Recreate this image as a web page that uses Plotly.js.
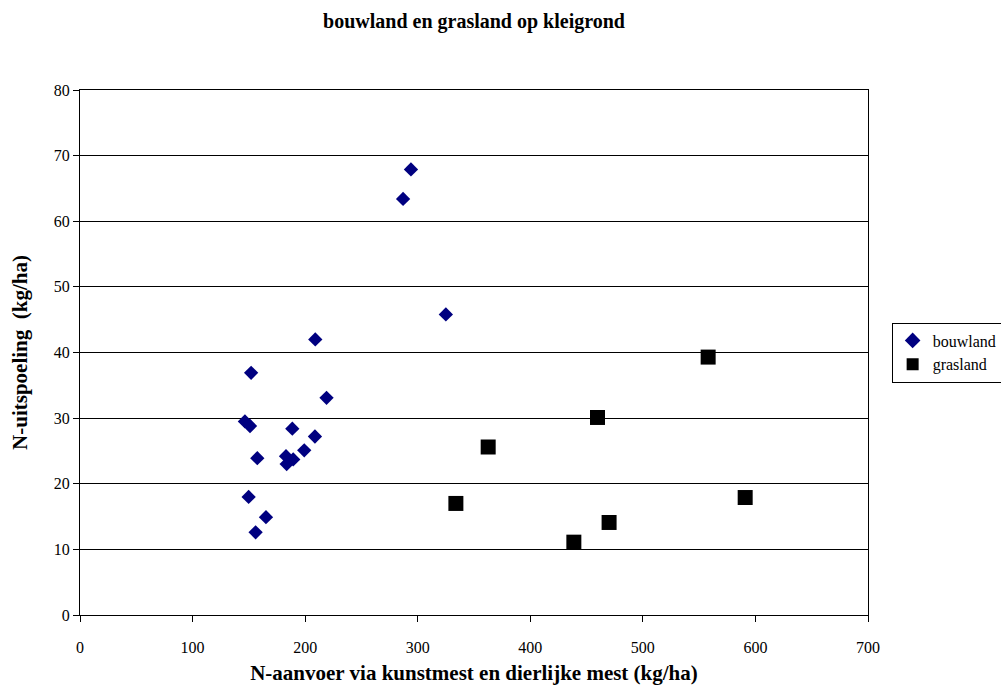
<!DOCTYPE html>
<html>
<head>
<meta charset="utf-8">
<script src="https://cdn.plot.ly/plotly-3.0.1.min.js"></script>
<style>html,body{margin:0;padding:0;background:#fff;}#chart{width:1001px;height:686px;}</style>
</head>
<body>
<div id="chart"></div>
<script>
const bouwlandX = [294, 287, 325, 209, 152, 219, 146.5, 151, 188.6, 208.7, 199.2, 157.5, 183, 189.4, 183.6, 149.8, 165.2, 156];
const bouwlandY = [67.9, 63.4, 45.8, 42.0, 36.9, 33.1, 29.5, 28.8, 28.4, 27.2, 25.1, 23.9, 24.2, 23.7, 23.0, 18.0, 14.9, 12.6];
const graslandX = [558, 459.7, 362.6, 333.9, 590.9, 470, 438.7];
const graslandY = [39.3, 30.1, 25.6, 17.0, 17.9, 14.1, 11.1];
const xTicks = [0, 100, 200, 300, 400, 500, 600, 700];
const yTicks = [0, 10, 20, 30, 40, 50, 60, 70, 80];

const serif = 'Times New Roman';

const traces = [
  {x: bouwlandX, y: bouwlandY, type: 'scatter', mode: 'markers', name: 'bouwland',
   marker: {symbol: 'diamond', color: '#000080', size: 11}},
  {x: graslandX, y: graslandY, type: 'scatter', mode: 'markers', name: 'grasland',
   marker: {symbol: 'square', color: '#000000', size: 15}}
];

const layout = {
  width: 1001, height: 686,
  margin: {l: 80, r: 133, t: 90, b: 71, autoexpand: false},
  paper_bgcolor: '#ffffff', plot_bgcolor: '#ffffff',
  font: {family: serif, color: '#000', size: 16},
  title: {text: '<b>bouwland en grasland op kleigrond</b>', font: {family: serif, size: 20, color: '#000'},
          x: 0.5, xanchor: 'center', y: 0.97, yanchor: 'middle', xref: 'paper'},
  xaxis: {range: [0, 700], tickvals: xTicks, ticktext: xTicks.map(String),
          showgrid: false, zeroline: false, showline: true, linecolor: '#000', linewidth: 1, mirror: true,
          ticks: 'outside', ticklen: 6, tickcolor: '#000', tickfont: {family: serif, size: 16},
          ticklabelstandoff: 12,
          title: {text: '<b>N-aanvoer via kunstmest en dierlijke mest (kg/ha)</b>', font: {family: serif, size: 21}, standoff: 10}},
  yaxis: {range: [0, 80], tickvals: yTicks, ticktext: yTicks.map(String),
          showgrid: true, gridcolor: '#000', gridwidth: 1, zeroline: false,
          showline: true, linecolor: '#000', linewidth: 1, mirror: true,
          ticks: 'outside', ticklen: 6, tickcolor: '#000', tickfont: {family: serif, size: 16},
          title: {text: '<b>N-uitspoeling  (kg/ha)</b>', font: {family: serif, size: 21}, standoff: 20}},
  legend: {x: 1.03, xanchor: 'left', y: 0.5, yanchor: 'middle', bordercolor: '#000', borderwidth: 1,
           bgcolor: '#fff', font: {family: serif, size: 16}, itemsizing: 'constant', itemwidth: 30, tracegroupgap: 2},
  showlegend: true
};

Plotly.newPlot('chart', traces, layout, {displayModeBar: false, staticPlot: true});
</script>
</body>
</html>
